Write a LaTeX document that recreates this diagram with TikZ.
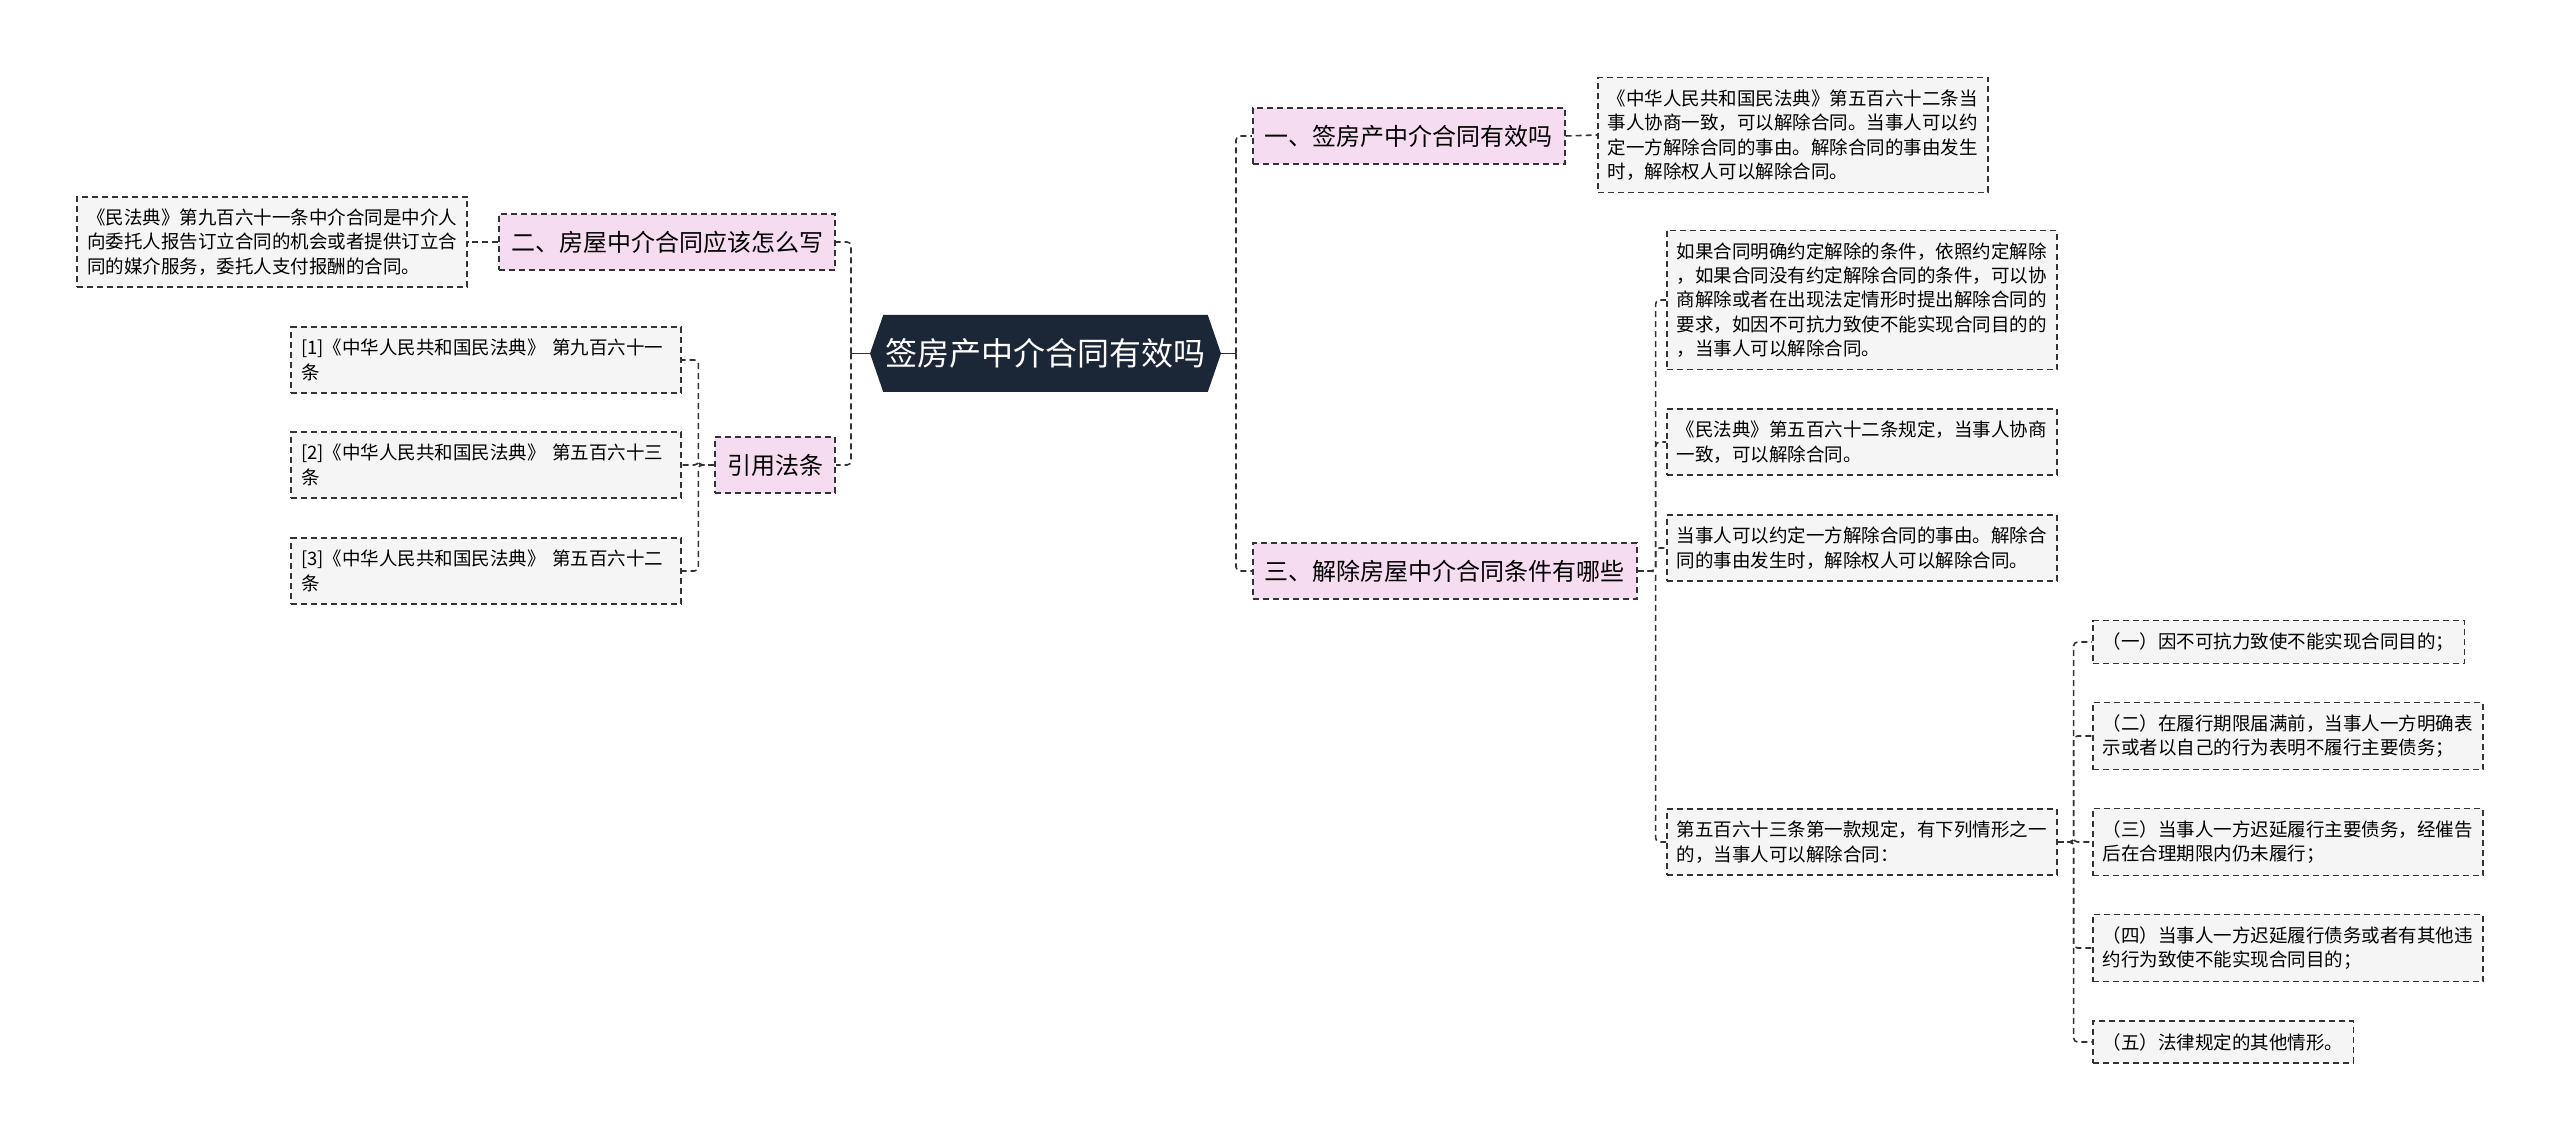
\documentclass[tikz,border=0pt]{standalone}
\usepackage{fontspec}
\setmainfont{Noto Sans CJK SC}
\usetikzlibrary{shapes.symbols}
\definecolor{RootColour}{RGB}{27,38,54}
\definecolor{BranchPink}{RGB}{246,220,240}
\definecolor{LeafGrey}{RGB}{245,245,245}
\definecolor{LineGrey}{RGB}{51,51,51}

\begin{document}
\begin{tikzpicture}[x=0.5pt, y=-0.5pt,
  dashline/.style={dash pattern=on 3pt off 2pt},
  root/.style={signal, signal to=east and west, signal pointer angle=142,
    fill=RootColour, text=white, font=\fontsize{16}{19}\selectfont,
    minimum width=175.5pt, minimum height=38.5pt, inner sep=0pt},
  branch/.style={draw=LineGrey, dashline, line width=0.8pt, fill=BranchPink,
    font=\fontsize{12}{14}\selectfont, inner xsep=6pt, minimum height=28pt},
  leaf/.style={draw=LineGrey, dashline, line width=0.8pt, fill=LeafGrey, align=left,
    font=\fontsize{9.25}{12.2}\selectfont, inner xsep=5pt, inner ysep=6pt},
  link/.style={draw=LineGrey, dashline, line width=0.8pt, rounded corners=2pt},
  trunk/.style={draw=LineGrey, line width=0.8pt}]
  \useasboundingbox (0,0) rectangle (2560,1143);

  % centre
  \node[root] (root) at (1045.5,353.5) {签房产中介合同有效吗};
  \coordinate (rootR) at (1236,353.5);
  \coordinate (rootL) at (851,353.5);

  % main branches
  \node[branch, anchor=west] (b1) at (1252,136) {一、签房产中介合同有效吗};
  \node[branch, anchor=west] (b4) at (1252,571) {三、解除房屋中介合同条件有哪些};
  \node[branch, anchor=east] (b2) at (836,242) {二、房屋中介合同应该怎么写};
  \node[branch, anchor=east] (b3) at (836,465) {引用法条};

  % leaves of b1 and b2
  \node[leaf, anchor=west] (b1a) at (1597,135) {《中华人民共和国民法典》第五百六十二条当\\
    事人协商一致，可以解除合同。当事人可以约\\
    定一方解除合同的事由。解除合同的事由发生\\
    时，解除权人可以解除合同。};
  \node[leaf, anchor=east] (b2a) at (468,242) {《民法典》第九百六十一条中介合同是中介人\\
    向委托人报告订立合同的机会或者提供订立合\\
    同的媒介服务，委托人支付报酬的合同。};

  % cited articles
  \foreach \n/\y/\t in {r1/360/{[1]《中华人民共和国民法典》 第九百六十一\\条},
                        r2/465/{[2]《中华人民共和国民法典》 第五百六十三\\条},
                        r3/571/{[3]《中华人民共和国民法典》 第五百六十二\\条}}
    \node[leaf, anchor=east, text width=185pt] (\n) at (682,\y) {\t};

  % leaves of b4
  \node[leaf, anchor=west] (c1) at (1666,300) {如果合同明确约定解除的条件，依照约定解除\\
    ，如果合同没有约定解除合同的条件，可以协\\
    商解除或者在出现法定情形时提出解除合同的\\
    要求，如因不可抗力致使不能实现合同目的的\\
    ，当事人可以解除合同。};
  \node[leaf, anchor=west] (c2) at (1666,442) {《民法典》第五百六十二条规定，当事人协商\\
    一致，可以解除合同。};
  \node[leaf, anchor=west] (c3) at (1666,548) {当事人可以约定一方解除合同的事由。解除合\\
    同的事由发生时，解除权人可以解除合同。};
  \node[leaf, anchor=west] (c4) at (1666,842) {第五百六十三条第一款规定，有下列情形之一\\
    的，当事人可以解除合同：};

  % cases of c4
  \foreach \n/\y/\t in {d1/642/{（一）因不可抗力致使不能实现合同目的；},
                        d2/736/{（二）在履行期限届满前，当事人一方明确表\\示或者以自己的行为表明不履行主要债务；},
                        d3/842/{（三）当事人一方迟延履行主要债务，经催告\\后在合理期限内仍未履行；},
                        d4/948/{（四）当事人一方迟延履行债务或者有其他违\\约行为致使不能实现合同目的；},
                        d5/1042/{（五）法律规定的其他情形。}}
    \node[leaf, anchor=west] (\n) at (2092,\y) {\t};

  % connectors
  \draw[trunk] (root.east) -- (rootR);
  \draw[trunk] (root.west) -- (rootL);
  \foreach \n in {b1,b4} \draw[link] (rootR) |- (\n.west);
  \foreach \n in {b2,b3} \draw[link] (rootL) |- (\n.east);
  \draw[link] (b1.east) -- (b1a.west);
  \draw[link] (b2.west) -- (b2a.east);
  \foreach \n in {r1,r2,r3} \draw[link] (b3.west) -- ++(-16,0) |- (\n.east);
  \foreach \n in {c1,c2,c3,c4} \draw[link] (b4.east) -- ++(18,0) |- (\n.west);
  \foreach \n in {d1,d2,d3,d4,d5} \draw[link] (c4.east) -- ++(16,0) |- (\n.west);
\end{tikzpicture}
\end{document}
